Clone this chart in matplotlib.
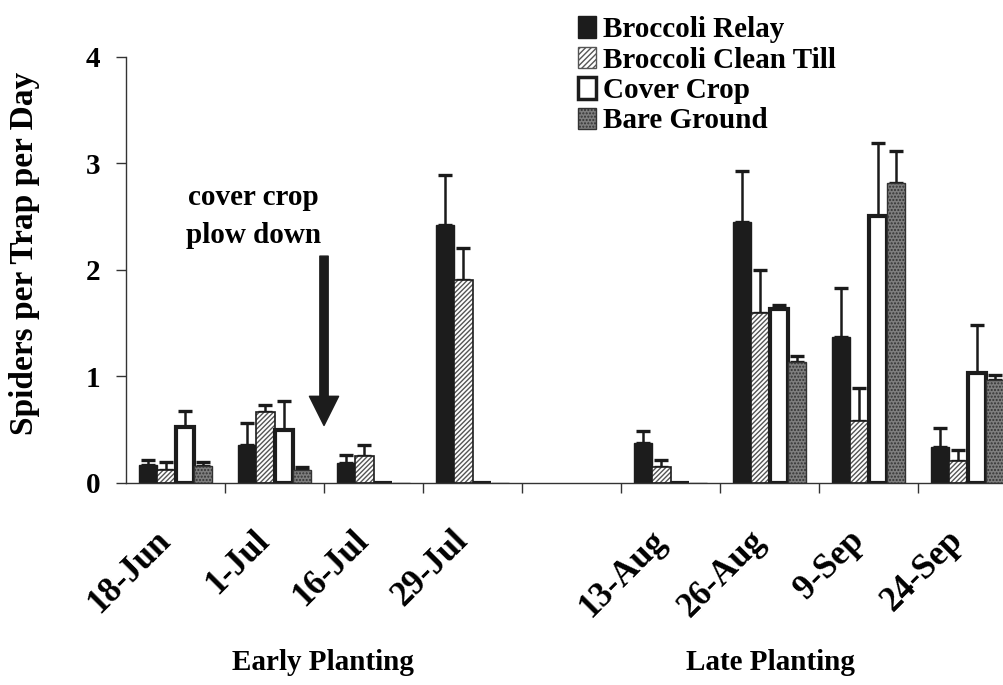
import matplotlib
matplotlib.use('Agg')
import matplotlib.pyplot as plt
import matplotlib.transforms as mtransforms
import numpy as np
from matplotlib.patches import Patch

nan = np.nan

# sampling dates (slot 4 is the empty gap between plantings)
dates = ['18-Jun', '1-Jul', '16-Jul', '29-Jul', '', '13-Aug', '26-Aug', '9-Sep', '24-Sep']

relay = [0.17, 0.36, 0.19, 2.42, nan, 0.38, 2.45, 1.37, 0.34]
relay_se = [0.05, 0.20, 0.07, 0.47, nan, 0.11, 0.48, 0.46, 0.18]
clean = [0.12, 0.67, 0.25, 1.91, nan, 0.15, 1.60, 0.58, 0.21]
clean_se = [0.08, 0.06, 0.11, 0.30, nan, 0.07, 0.40, 0.31, 0.10]
cover = [0.53, 0.50, 0.0, 0.0, nan, 0.0, 1.63, 2.51, 1.03]
cover_se = [0.15, 0.27, 0.0, 0.0, nan, 0.0, 0.04, 0.68, 0.45]
bare = [0.16, 0.12, 0.0, 0.0, nan, 0.0, 1.14, 2.82, 0.97]
bare_se = [0.04, 0.03, 0.0, 0.0, nan, 0.0, 0.05, 0.30, 0.04]

series_names = ['Broccoli Relay', 'Broccoli Clean Till', 'Cover Crop', 'Bare Ground']

serif = 'Liberation Serif'
plt.rcParams['font.family'] = serif
plt.rcParams['font.weight'] = 'bold'
plt.rcParams['hatch.linewidth'] = 1.0

fig = plt.figure(figsize=(10.04, 6.85), dpi=100)
ax = fig.add_axes([0.1255, 0.2949, 0.8875, 0.622])

x = np.arange(len(dates))
w = 0.185


def errs(xpos, vals, se):
    vals = np.array(vals)
    se = np.array(se)
    ok = np.isfinite(vals) & (np.nan_to_num(se) > 0)
    ax.errorbar(xpos[ok], vals[ok], yerr=[np.zeros(ok.sum()), se[ok]],
                fmt='none', ecolor='#1a1a1a', elinewidth=1.8, capsize=5, capthick=2.4, zorder=1)


# Broccoli Relay: solid black
ax.bar(x - 1.5 * w, relay, w, color='#1c1c1c', edgecolor='#1c1c1c', lw=1, zorder=2)
errs(x - 1.5 * w, relay, relay_se)

# Broccoli Clean Till: hatched
ax.bar(x - 0.5 * w, clean, w, color='white', edgecolor='#555555', hatch='///////', lw=0, zorder=2)
ax.bar(x - 0.5 * w, clean, w, fill=False, edgecolor='#1c1c1c', lw=1.2, zorder=2)
errs(x - 0.5 * w, clean, clean_se)

# Cover Crop: white with heavy outline
ax.bar(x + 0.5 * w, cover, w, color='white', edgecolor='#1c1c1c', lw=3, zorder=2)
errs(x + 0.5 * w, cover, cover_se)

# Bare Ground: stippled grey
ax.bar(x + 1.5 * w, bare, w, color='#7e7e7e', edgecolor='#333333', hatch='.....', lw=1, zorder=2)
errs(x + 1.5 * w, bare, bare_se)

ax.set_xlim(-0.5, len(dates) - 0.5)
ax.set_ylim(0, 4)
ax.set_yticks([0, 1, 2, 3, 4])
ax.set_yticklabels(['0', '1', '2', '3', '4'], fontsize=21, fontweight='bold')
ax.set_xticks(x[:-1] + 0.5)
ax.set_xticklabels([])
ax.set_xticks(x, minor=True)
ax.set_xticklabels(dates, minor=True, rotation=45, ha='right', va='center',
                   rotation_mode='anchor', fontsize=25, fontweight='bold')
ax.tick_params(axis='x', which='major', direction='out', length=7.5, width=1, color='#333333')
ax.tick_params(axis='x', which='minor', length=0, pad=38)
ax.tick_params(axis='y', direction='out', length=7.5, width=1, color='#333333', pad=11)

# nudge the slanted date labels left so they end just before the slot centre
shift = mtransforms.ScaledTranslation(-7 / 72, 0, fig.dpi_scale_trans)
for lab in ax.get_xticklabels(minor=True):
    lab.set_transform(lab.get_transform() + shift)

for side in ['top', 'right']:
    ax.spines[side].set_visible(False)
for side in ['left', 'bottom']:
    ax.spines[side].set_color('#333333')
    ax.spines[side].set_linewidth(1)

ax.set_ylabel('Spiders per Trap per Day', fontsize=24, fontweight='bold')
ax.yaxis.set_label_coords(-0.096, 0.54)

# plow down annotation
ax.text(0.79, 2.5, 'cover crop\nplow down', ha='center', va='center', fontsize=21,
        fontweight='bold', linespacing=1.55)
ax.annotate('', xy=(1.5, 0.54), xytext=(1.5, 2.13),
            arrowprops=dict(width=6, headwidth=21, headlength=21,
                            facecolor='#1c1c1c', edgecolor='#1c1c1c', shrink=0))

fig.text(323 / 1004, 1 - 662 / 685, 'Early Planting', ha='center', va='center',
         fontsize=21, fontweight='bold')
fig.text(770 / 1004, 1 - 662 / 685, 'Late Planting', ha='center', va='center',
         fontsize=21, fontweight='bold')

handles = [
    Patch(facecolor='#1c1c1c', edgecolor='#1c1c1c'),
    Patch(facecolor='white', edgecolor='#555555', hatch='//////'),
    Patch(facecolor='white', edgecolor='#1c1c1c', lw=2.5),
    Patch(facecolor='#7e7e7e', edgecolor='#333333', hatch='.....'),
]
fig.legend(handles, series_names, loc='upper left', bbox_to_anchor=(578 / 1004, 1 - 16 / 685),
           frameon=False, fontsize=21, handlelength=0.6, handleheight=0.75,
           handletextpad=0.25, labelspacing=0.12, borderpad=0, borderaxespad=0)

fig.savefig('out.png', dpi=100)
